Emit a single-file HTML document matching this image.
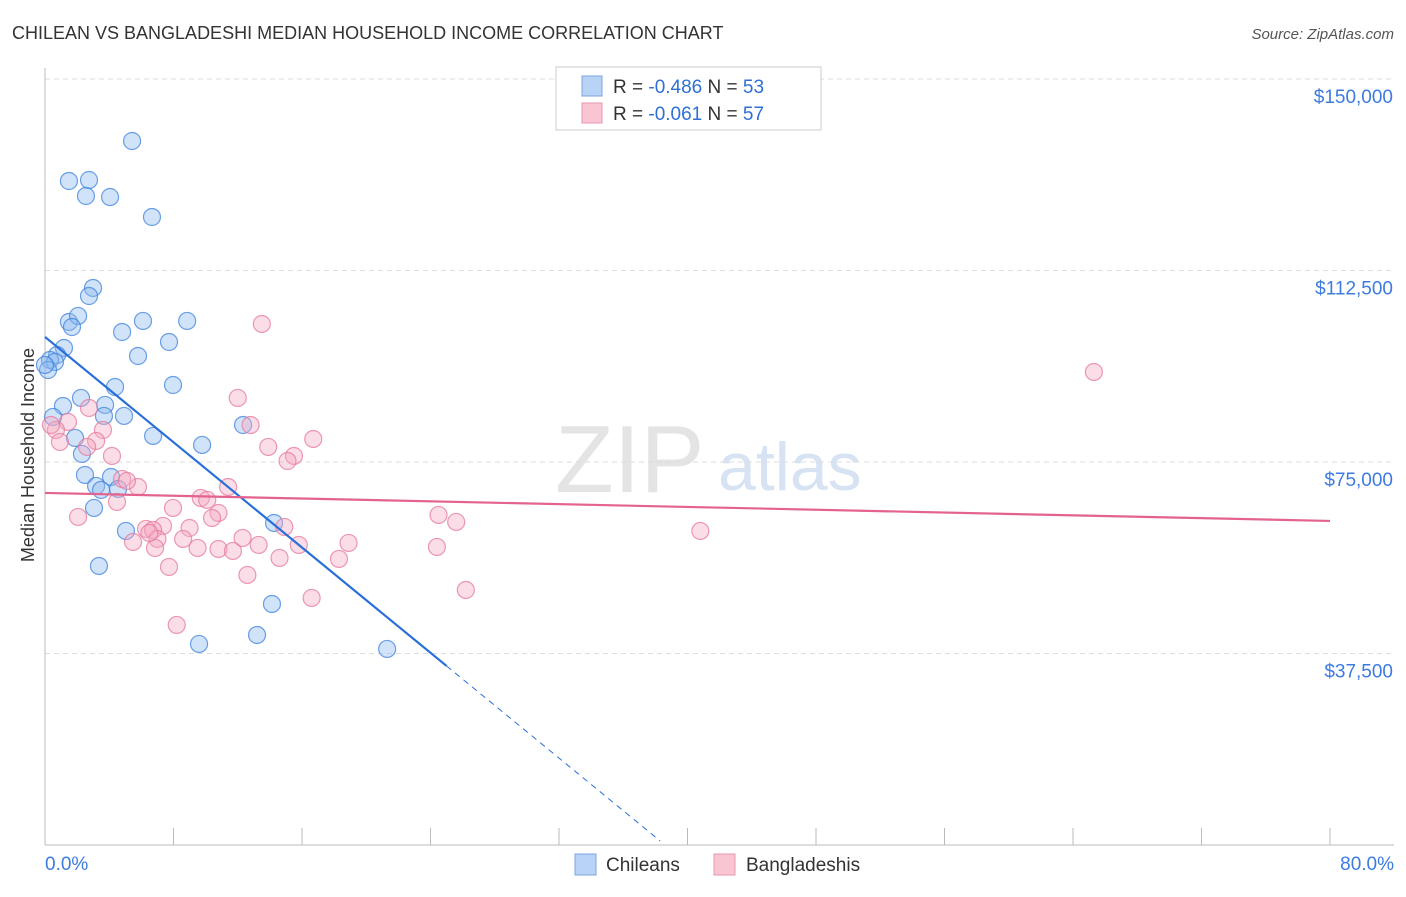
<!DOCTYPE html>
<html><head><meta charset="utf-8"><style>
body{margin:0;background:#fff;font-family:"Liberation Sans",sans-serif;}
svg text{font-family:"Liberation Sans",sans-serif;}
</style></head><body>
<svg width="1406" height="892" viewBox="0 0 1406 892" id="chart">
<text x="12" y="39" font-size="18" fill="#333">CHILEAN VS BANGLADESHI MEDIAN HOUSEHOLD INCOME CORRELATION CHART</text>
<text x="1394" y="39" font-size="15" fill="#555" font-style="italic" text-anchor="end">Source: ZipAtlas.com</text>
<text x="555" y="492" font-size="96" fill="#e4e4e4" font-family="Liberation Serif">ZIP</text>
<text x="718" y="490" font-size="68" fill="#d7e3f3">atlas</text>
<g id="grid"></g>
<g id="axes"></g>
<text transform="translate(34,455) rotate(-90)" font-size="18" fill="#333" text-anchor="middle">Median Household Income</text>
<g id="marks"></g>
<g>
<rect x="556" y="67" width="265" height="63" fill="#fff" stroke="#ccc"/>
<rect x="582" y="76" width="20" height="20" fill="#b8d3f5" stroke="#7aa6e0"/>
<rect x="582" y="103" width="20" height="20" fill="#f9c5d3" stroke="#e898b0"/>
<text x="613" y="93" font-size="19" fill="#333">R = <tspan fill="#2f6fd6">-0.486</tspan>   N = <tspan fill="#2f6fd6">53</tspan></text>
<text x="613" y="120" font-size="19" fill="#333">R = <tspan fill="#2f6fd6"> -0.061</tspan>   N = <tspan fill="#2f6fd6">57</tspan></text>
</g>
<g>
<rect x="575" y="854" width="21" height="21" fill="#b8d3f5" stroke="#7aa6e0"/>
<text x="606" y="871" font-size="19" fill="#333">Chileans</text>
<rect x="714" y="854" width="21" height="21" fill="#f9c5d3" stroke="#e898b0"/>
<text x="746" y="871" font-size="19" fill="#333">Bangladeshis</text>
</g>
</svg>
<script>
const yTicks=[150000,112500,75000,37500];
const yTickLabels=["$150,000","$112,500","$75,000","$37,500"];
const xTicks=[0,8,16,24,32,40,48,56,64,72,80];
const blueX=[5.42,1.49,2.74,2.55,4.05,6.66,2.99,2.74,1.49,2.06,1.68,6.1,8.85,4.8,7.72,1.18,0.75,0.31,0.62,5.79,0.19,7.97,4.36,2.24,1.12,3.74,4.92,3.67,6.73,12.33,9.78,1.87,2.3,2.49,4.11,3.18,4.55,3.49,3.05,5.04,14.26,3.36,14.13,13.2,9.59,21.3,0.5,0.0];
const blueY=[137860,130030,130220,127090,126890,122980,109080,107510,102420,103600,101440,102620,102620,100460,98500,97330,95960,94980,94590,95760,93020,90080,89690,87540,85970,86170,84020,84020,80100,82250,78340,79710,76580,72460,72070,70310,69720,69530,66000,61500,63060,54640,47200,41130,39370,38390,83820,94000];
const pinkX=[13.5,65.3,12.0,12.8,2.74,1.43,0.68,3.61,0.93,3.18,2.62,16.7,13.9,15.5,15.1,4.17,4.8,5.79,5.1,4.48,11.4,9.7,10.1,7.97,10.8,10.4,2.06,24.5,25.6,14.9,9.0,7.35,6.29,6.73,40.8,7.0,8.6,5.48,18.9,13.3,15.8,6.85,9.5,10.8,11.7,24.4,14.6,18.3,7.72,12.6,26.2,16.6,8.2,0.37,6.5,12.3];
const pinkY=[102030,92630,87540,82250,85580,82840,81270,81270,78930,79120,77950,79510,77950,76180,75200,76180,71680,70110,71290,67180,70110,67960,67570,66000,65020,64040,64240,64630,63260,62280,62080,62480,61890,61690,61500,59930,59930,59340,59150,58760,58760,58170,58170,57970,57580,58370,56210,56020,54450,52880,49940,48380,43090,82250,61100,60130];
const blueTrend=[[0,99490],[25.0,35060],[38.3,790]];
const pinkTrend=[[0,68940],[80,63460]];
const NS="http://www.w3.org/2000/svg";
const X=v=>45+v/80*1285;
const Y=v=>79+(150000-v)/37500*191.5;
function mk(tag,attrs,parent){const e=document.createElementNS(NS,tag);for(const k in attrs)e.setAttribute(k,attrs[k]);document.getElementById(parent).appendChild(e);return e;}
yTicks.forEach((t,i)=>{
  const g=mk('line',{x1:45,x2:1394,y1:Y(t),y2:Y(t),stroke:'#ddd','stroke-dasharray':'5,4'},'grid');
  
  
  const tx=mk('text',{x:1393,y:Y(t)+24,'font-size':19,fill:'#3d7be0','text-anchor':'end'},'axes');
  tx.textContent=yTickLabels[i];
  
  
});
const ya=mk('line',{x1:45,x2:45,y1:68,y2:845,stroke:'#bbb'},'axes');


const xa=mk('line',{x1:45,x2:1394,y1:845,y2:845,stroke:'#bbb'},'axes');


xTicks.forEach(t=>{
  const l=mk('line',{x1:X(t),x2:X(t),y1:828,y2:845,stroke:'#bbb'},'axes');
  
  
});
const xl0=mk('text',{x:45,y:870,'font-size':19,fill:'#3d7be0'},'axes');xl0.textContent='0.0%';


const xl1=mk('text',{x:1394,y:870,'font-size':19,fill:'#3d7be0','text-anchor':'end'},'axes');xl1.textContent='80.0%';


blueX.forEach((x,i)=>{
  const c=mk('circle',{cx:X(x),cy:Y(blueY[i]),r:8.5,fill:'rgba(140,185,240,0.4)',stroke:'rgba(60,130,220,0.75)','stroke-width':1.2},'marks');
  
  
});
pinkX.forEach((x,i)=>{
  const c=mk('circle',{cx:X(x),cy:Y(pinkY[i]),r:8.5,fill:'rgba(245,170,195,0.4)',stroke:'rgba(230,120,155,0.75)','stroke-width':1.2},'marks');
  
  
});
const b1=mk('line',{x1:X(blueTrend[0][0]),y1:Y(blueTrend[0][1]),x2:X(blueTrend[1][0]),y2:Y(blueTrend[1][1]),stroke:'#2a6fd8','stroke-width':2.2},'marks');


const b2=mk('line',{x1:X(blueTrend[1][0]),y1:Y(blueTrend[1][1]),x2:X(blueTrend[2][0]),y2:Y(blueTrend[2][1]),stroke:'#2a6fd8','stroke-width':1,'stroke-dasharray':'6,5'},'marks');


const p1=mk('line',{x1:X(pinkTrend[0][0]),y1:Y(pinkTrend[0][1]),x2:X(pinkTrend[1][0]),y2:Y(pinkTrend[1][1]),stroke:'#e4638e','stroke-width':2.2},'marks');


</script>
</body></html>
